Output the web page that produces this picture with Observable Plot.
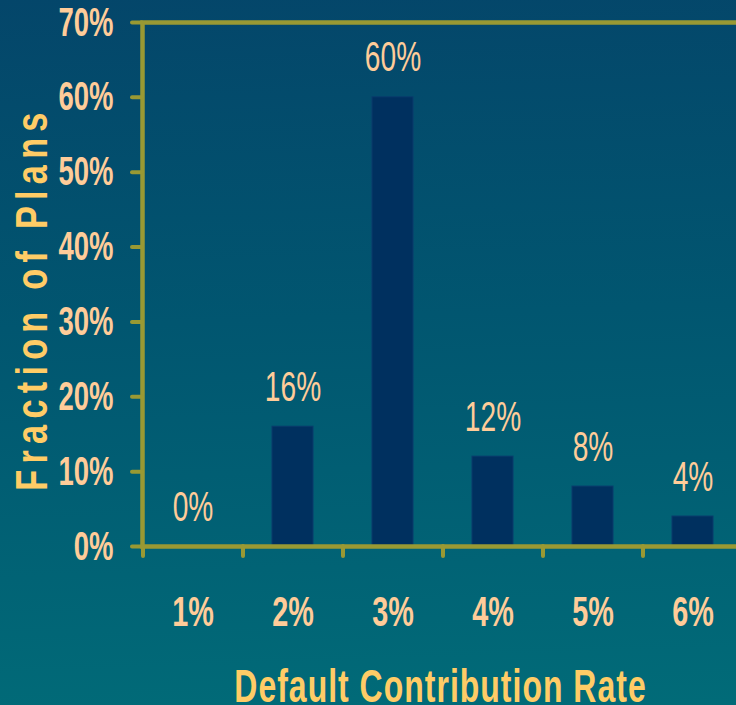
<!DOCTYPE html>
<html>
<head>
<meta charset="utf-8">
<script src="https://cdn.jsdelivr.net/npm/d3@7"></script>
<script src="https://cdn.jsdelivr.net/npm/@observablehq/plot@0.6"></script>
<style>
  html, body { margin: 0; padding: 0; background: #02566f; }
  #chart { width: 736px; height: 705px; overflow: hidden;
    background: linear-gradient(178deg, #04466a 0%, #015670 45%, #016b78 100%); }
  #chart svg { display: block; }
</style>
</head>
<body>
<div id="chart"></div>
<script>
// ---- data ----
const rates = ["1%", "2%", "3%", "4%", "5%", "6%"];
const shares = [0.00, 0.16, 0.60, 0.12, 0.08, 0.04];
const yTickValues = [0, 0.1, 0.2, 0.3, 0.4, 0.5, 0.6, 0.7];
const xTitle = "Default Contribution Rate";
const yTitle = "Fraction of Plans";

// ---- styles ----
const olive = "#999933";
const peach = "#ffcc99";
const gold = "#ffcc66";
const navy = "#00305f";
const font = "'Liberation Sans', Arial, sans-serif";

const data = rates.map((r, i) => ({rate: r, share: shares[i]}));
const pct = d3.format(".0%");

const W = 736, H = 705;
const mLeft = 142, mRight = -6, mTop = 22, mBottom = 159;
const bandStep = (W - mRight - mLeft) / rates.length;

const chart = Plot.plot({
  width: W,
  height: H,
  marginLeft: mLeft,
  marginRight: mRight,
  marginTop: mTop,
  marginBottom: mBottom,
  style: {background: "transparent", fontFamily: font, overflow: "visible"},
  x: {domain: rates, paddingInner: 0.59, paddingOuter: 0.295, label: null},
  y: {domain: [0, 0.7], label: null},
  marks: [
    Plot.barY(data, {x: "rate", y: "share", fill: navy, stroke: "#0a3a6c", strokeWidth: 1}),
    Plot.text(data, {
      x: "rate", y: "share", text: d => pct(d.share),
      dy: -26, lineAnchor: "bottom", fill: peach,
      fontSize: 42, fontWeight: "normal", fontFamily: font
    }),
    Plot.frame({stroke: olive, strokeWidth: 4.5}),
    Plot.axisY({
      ticks: yTickValues, tickFormat: pct, tickSize: 10, tickPadding: 19,
      stroke: olive, strokeWidth: 4, strokeLinecap: "round",
      fill: peach, fontSize: 41, fontWeight: "bold", fontFamily: font, label: null
    }),
    Plot.axisX({
      tickSize: 10, tickFormat: () => "", dx: -bandStep / 2,
      stroke: olive, strokeWidth: 4, strokeLinecap: "round", label: null
    }),
    Plot.axisX({
      tickSize: 0, tickPadding: 49,
      fill: peach, fontSize: 43, fontWeight: "bold", fontFamily: font, label: null
    }),
    Plot.text([xTitle], {
      frameAnchor: "bottom", textAnchor: "middle", dx: -2, dy: 155, lineAnchor: "bottom",
      fill: gold, fontSize: 47, fontWeight: "bold", fontFamily: font
    }),
    Plot.text([yTitle], {
      frameAnchor: "left", textAnchor: "middle", rotate: -90, dx: -96, dy: 14, lineAnchor: "bottom",
      fill: gold, fontSize: 44, fontWeight: "bold", fontFamily: font
    })
  ]
});

document.getElementById("chart").appendChild(chart);

// Narrow, tall lettering like the original slide
const svg = chart.tagName.toLowerCase() === "svg" ? chart : chart.querySelector("svg");
svg.querySelectorAll("text").forEach(t => {
  let tr = t.getAttribute("transform");
  if (!tr) {
    const x = +t.getAttribute("x") || 0, y = +t.getAttribute("y") || 0;
    t.setAttribute("x", 0); t.setAttribute("y", 0);
    tr = `translate(${x},${y})`;
  }
  if (t.textContent === yTitle) {
    t.setAttribute("letter-spacing", "8");
    t.setAttribute("transform", tr + " scale(0.78,1)");
  } else if (t.textContent === xTitle) {
    t.setAttribute("letter-spacing", "1.5");
    t.setAttribute("transform", tr + " scale(0.68,1)");
  } else {
    t.setAttribute("transform", tr + " scale(0.67,1)");
  }
});
</script>
</body>
</html>
